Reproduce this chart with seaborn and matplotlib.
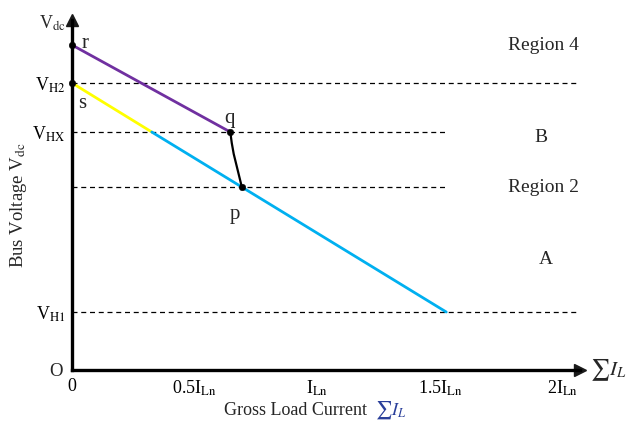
import matplotlib
matplotlib.use("Agg")
import matplotlib.pyplot as plt
import seaborn as sns
import pandas as pd

sns.set_theme(style="white")
plt.rcParams['font.family'] = ['Liberation Serif', 'DejaVu Serif']
plt.rcParams['mathtext.fontset'] = 'stix'

# ---- data ----
x_ticks = [0, 0.5, 1.0, 1.5, 2.0]
x_tick_labels = ["0", r"0.5I$_{\mathrm{Ln}}$", r"I$_{\mathrm{Ln}}$", r"1.5I$_{\mathrm{Ln}}$", r"2I$_{\mathrm{Ln}}$"]
V_H1, V_MID, V_HX, V_H2, V_R = 0.58, 1.83, 2.38, 2.87, 3.25
y_ticks = [V_H1, V_MID, V_HX, V_H2]
y_tick_labels = [r"V$_{\mathrm{H1}}$", "", r"V$_{\mathrm{HX}}$", r"V$_{\mathrm{H2}}$"]

purple_x = [0.0, 0.645]
purple_y = [V_R, V_HX]
yellow_x = [0.0, 0.325]
yellow_y = [V_H2, V_HX]
blue_x = [0.325, 1.525]
blue_y = [V_HX, V_H1]
curve_x = [0.645, 0.651, 0.659, 0.670, 0.681, 0.692]
curve_y = [V_HX, 2.27, 2.16, 2.05, 1.94, V_MID]
dots_x = [0.0, 0.0, 0.645, 0.692]
dots_y = [V_R, V_H2, V_HX, V_MID]

# dashed guide lines (y, x-end)
guide_y = [V_H2, V_HX, V_MID, V_H1]
guide_xend = [2.07, 1.53, 1.53, 2.07]

fig = plt.figure(figsize=(6.27, 4.21), dpi=100)
W, H = 627, 421
x0px, y0px, x1px, y1px = 72, 370, 580, 20
ax = fig.add_axes([x0px / W, (H - y0px) / H, (x1px - x0px) / W, (y0px - y1px) / H])
ax.set_xlim(0, 2.07)
ax.set_ylim(0, 3.5)

for gy, gx in zip(guide_y, guide_xend):
    ax.plot([0, gx], [gy, gy], color="black", lw=0.9, ls=(0, (4, 3)), zorder=1)

def seg(xs, ys, color, lw=2.0):
    df = pd.DataFrame({"x": xs, "y": ys})
    sns.lineplot(data=df, x="x", y="y", ax=ax, color=color, lw=lw, sort=False,
                 estimator=None, zorder=3)

seg(purple_x, purple_y, "#7030A0")
seg(yellow_x, yellow_y, "#FFFF00")
seg(blue_x, blue_y, "#00B0F0")
seg(curve_x, curve_y, "black", lw=1.6)
sns.scatterplot(x=dots_x, y=dots_y, ax=ax, color="black", s=22, zorder=5, clip_on=False, edgecolor="black")

# spines / axes with arrows
for s in ["top", "right"]:
    ax.spines[s].set_visible(False)
for s in ["left", "bottom"]:
    ax.spines[s].set_linewidth(2.4)
    ax.spines[s].set_color("black")
ax.plot(1, 0, ">k", transform=ax.transAxes, clip_on=False, ms=9)
ax.plot(0, 1, "^k", transform=ax.transAxes, clip_on=False, ms=9)

ax.set_xticks(x_ticks)
ax.set_xticklabels(x_tick_labels, fontsize=13)
ax.set_yticks(y_ticks)
ax.set_yticklabels(y_tick_labels, fontsize=13)
ax.tick_params(axis="both", direction="in", length=5, width=1.2, colors="black", pad=5)
ax.tick_params(axis="x", pad=6)
ax.grid(False)

ax.set_xlabel("")
ax.text(0.58, -0.115, "Gross Load Current", fontsize=13, ha="right", va="center",
        transform=ax.transAxes)
ax.text(0.597, -0.115, r"$\sum I_L$", fontsize=13, ha="left", va="center",
        color="#2A3F9A", transform=ax.transAxes)
ax.set_ylabel(r"Bus Voltage V$_{\mathrm{dc}}$", fontsize=13.5)
ax.yaxis.set_label_coords(-0.085, 0.47)

ax.text(-0.018, -0.005, "O", fontsize=13.5, ha="right", va="center", transform=ax.transAxes)
ax.text(-0.025, 3.47, r"V$_{\mathrm{dc}}$", fontsize=13, ha="right", va="center")
ax.text(1.02, 0.0, r"$\sum I_L$", fontsize=15, ha="left", va="center", transform=ax.transAxes)

ax.text(0.04, V_R + 0.02, "r", fontsize=15, ha="left", va="center")
ax.text(0.025, V_H2 - 0.21, "s", fontsize=15, ha="left", va="center")
ax.text(0.64, V_HX + 0.13, "q", fontsize=15, ha="center", va="center")
ax.text(0.665, V_MID - 0.27, "p", fontsize=15, ha="center", va="center")

ax.text(1.92, 3.25, "Region 4", fontsize=14, ha="center", va="center")
ax.text(1.91, 2.33, "B", fontsize=14, ha="center", va="center")
ax.text(1.92, 1.83, "Region 2", fontsize=14, ha="center", va="center")
ax.text(1.93, 1.10, "A", fontsize=14, ha="center", va="center")

fig.savefig("out.png", dpi=100)
